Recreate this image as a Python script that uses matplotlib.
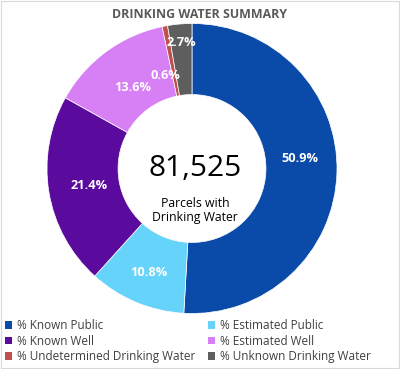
import matplotlib
matplotlib.use("Agg")
import matplotlib.pyplot as plt
import numpy as np
from matplotlib.patches import Rectangle, Patch

categories = ["% Known Public", "% Estimated Public", "% Known Well",
              "% Estimated Well", "% Undetermined Drinking Water", "% Unknown Drinking Water"]
values = [50.9, 10.8, 21.4, 13.6, 0.6, 2.7]
labels = ["50.9%", "10.8%", "21.4%", "13.6%", "0.6%", "2.7%"]
total_text = "81,525"
sub_text = "Parcels with\nDrinking Water"
title = "DRINKING WATER SUMMARY"

colors = ["#0A4AA8", "#66D3FA", "#5B0A9E", "#D77FF4", "#C0504D", "#5E5E5E"]
label_r = [0.75, 0.78, 0.72, 0.69, 0.67, 0.87]
label_dang = [7, 0, 0, 0, 5, 0]

plt.rcParams['font.family'] = ['Open Sans', 'DejaVu Sans']

fig = plt.figure(figsize=(4.0, 3.69), dpi=100)
ax = fig.add_axes([(192 - 145) / 400, 1 - (168.5 + 145) / 369, 290 / 400, 290 / 369])
wedges, _ = ax.pie(values, colors=colors, startangle=90, counterclock=False,
                   radius=1.0, wedgeprops=dict(width=0.49, edgecolor="white", linewidth=0.5))
ax.set_xlim(-1, 1)
ax.set_ylim(-1, 1)
ax.set_aspect('equal')

for w, lab, r, da in zip(wedges, labels, label_r, label_dang):
    ang = np.deg2rad((w.theta1 + w.theta2) / 2 + da)
    ax.text(r * np.cos(ang), r * np.sin(ang), lab, ha='center', va='center',
            color='white', fontsize=9.2, fontweight='bold')

ax.text(0.02, 0.0, total_text, ha='center', va='center', fontsize=21.5, color='black')
ax.text(0.02, -0.29, sub_text, ha='center', va='center', fontsize=8.8, color='black',
        linespacing=1.15)

fig.text(0.5, 1 - 15 / 369, title, ha='center', va='center', fontsize=8.9,
         fontweight='bold', color='#595959')

handles = [Patch(facecolor=c, edgecolor='none') for c in colors]
order = [0, 2, 4, 1, 3, 5]
leg = fig.legend([handles[i] for i in order], [categories[i] for i in order],
                 ncol=2, loc='upper left', bbox_to_anchor=(0.012, 1 - 319 / 369),
                 frameon=False, fontsize=8.5, handlelength=0.6, handleheight=0.6,
                 handletextpad=0.4, columnspacing=1.1, labelspacing=0.22,
                 borderpad=0.0, borderaxespad=0.0)
for t in leg.get_texts():
    t.set_color('#404040')

fig.patches.append(Rectangle((0.003, 0.003), 0.994, 0.994, transform=fig.transFigure,
                             fill=False, edgecolor='#D9D9D9', linewidth=0.8))

fig.savefig("out.png", dpi=100)
